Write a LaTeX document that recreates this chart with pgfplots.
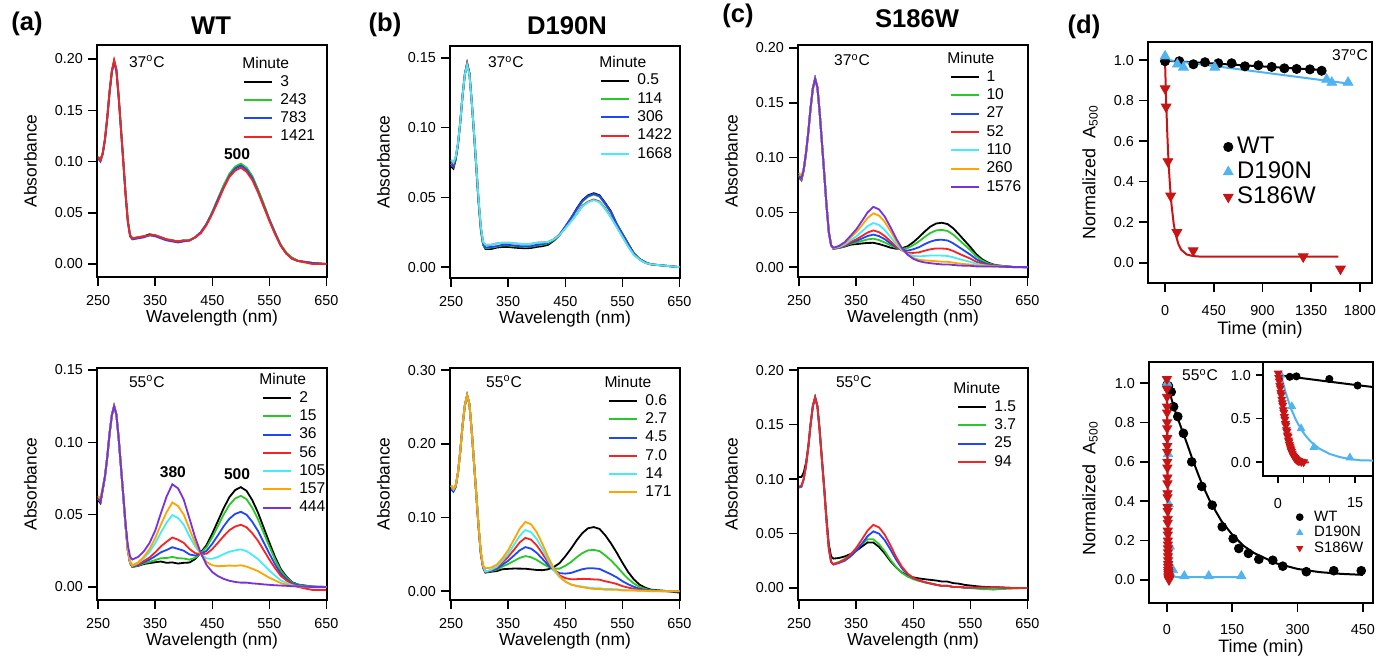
\documentclass[border=0pt]{standalone}
\usepackage{fontspec}
\setmainfont{Liberation Sans}
\usepackage{pgfplots}
\usepackage{pgfplotstable}
\pgfplotsset{compat=1.18}

\definecolor{cgreen}{RGB}{40,200,40}
\definecolor{cblue}{RGB}{30,70,250}
\definecolor{cred}{RGB}{245,35,35}
\definecolor{ccyan}{RGB}{70,235,250}
\definecolor{corange}{RGB}{255,165,0}
\definecolor{cpurple}{RGB}{120,50,220}
\definecolor{lblue}{RGB}{80,180,240}
\definecolor{dred}{RGB}{200,20,20}

\newcommand\tfont{\fontsize{7.2}{8.5}\selectfont}
\newcommand\gfont{\fontsize{7.8}{9}\selectfont}
\newcommand\lfont{\fontsize{8.7}{10}\selectfont}
\newcommand\hfont{\fontsize{12.8}{14}\selectfont\bfseries}

\pgfplotsset{
  base/.style={
    scale only axis,
    tick align=outside,
    xtick pos=left, ytick pos=left,
    major tick length=4.5pt,
    axis line style={line width=0.75pt},
    tick style={black,line width=0.75pt},
    tick label style={font=\tfont},
    xticklabel shift=1pt,
    yticklabel shift=-1pt,
    /pgf/number format/assume math mode=true,
    /pgf/number format/1000 sep={},
    label style={font=\lfont},
    clip=true,
  },
  spec/.style={
    base, width=115pt, height=116pt,
    xmin=248, xmax=651, xtick={250,350,450,550,650},
    yticklabel style={/pgf/number format/.cd,fixed,fixed zerofill,precision=2},
    xlabel={Wavelength (nm)}, ylabel={Absorbance},
    xlabel style={at={(axis description cs:0.5,-0.177)},anchor=center},
    ylabel style={at={(axis description cs:-0.29,0.5)},anchor=center},
    legend cell align=left,
    legend style={draw=none,fill=none,anchor=north west,font=\gfont,inner sep=0pt,
      column sep=3pt,row sep=0.75pt,
      nodes={inner sep=0.5pt,text height=5.8pt,text depth=1.6pt}},
    legend image code/.code={\draw[##1,line width=1pt] (0pt,0pt) -- (14pt,0pt);},
    every axis plot/.append style={line width=0.9pt},
    no markers,
  },
  dax/.style={
    base, width=112pt, height=120.5pt,
    xticklabel shift=3pt,
    ytick={0,0.2,0.4,0.6,0.8,1.0},
    yticklabel style={/pgf/number format/.cd,fixed,fixed zerofill,precision=1},
    xlabel={Time (min)}, ylabel={Normalized\ \ A\textsubscript{500}},
    label style={font=\fontsize{9}{10}\selectfont},
  },
  mWT/.style={only marks, mark=*, black, mark size=2.3pt},
  mDN/.style={only marks, mark=triangle*, lblue, mark size=2.8pt, mark options={draw=lblue,fill=lblue}},
  mSW/.style={only marks, mark=triangle*, dred, mark size=2.8pt, mark options={rotate=180,draw=dred,fill=dred}},
  mlegA/.style={legend image code/.code={\draw[mark repeat=2,mark phase=2,##1] plot coordinates {(0pt,0pt) (4.5pt,0pt) (9pt,0pt)};}},
  mlegB/.style={legend image code/.code={\draw[mark repeat=2,mark phase=2,##1,mark size=1.7pt] plot coordinates {(0pt,0pt) (3pt,0pt) (6pt,0pt)};}},
}

% ---------------- spectra tables ----------------
\pgfplotstableread{
w k g b r
250 0.104 0.105 0.103 0.104
254 0.101 0.102 0.100 0.101
258 0.108 0.108 0.107 0.108
262 0.122 0.122 0.121 0.122
266 0.143 0.143 0.142 0.143
270 0.168 0.168 0.167 0.168
274 0.188 0.188 0.187 0.188
278 0.198 0.198 0.197 0.199
282 0.189 0.189 0.188 0.190
286 0.163 0.163 0.162 0.164
290 0.132 0.132 0.131 0.132
294 0.101 0.101 0.100 0.101
298 0.069 0.069 0.068 0.069
302 0.042 0.042 0.041 0.042
306 0.028 0.028 0.027 0.028
310 0.025 0.025 0.024 0.025
320 0.026 0.026 0.025 0.026
330 0.027 0.027 0.026 0.027
340 0.029 0.028 0.028 0.028
350 0.028 0.028 0.027 0.028
360 0.026 0.026 0.025 0.026
370 0.024 0.024 0.023 0.024
380 0.023 0.023 0.022 0.023
390 0.022 0.022 0.021 0.022
400 0.023 0.023 0.022 0.023
410 0.023 0.023 0.023 0.023
420 0.026 0.026 0.026 0.026
430 0.031 0.031 0.031 0.030
440 0.039 0.039 0.039 0.038
450 0.050 0.051 0.050 0.049
460 0.063 0.064 0.063 0.061
470 0.076 0.077 0.075 0.074
480 0.087 0.088 0.086 0.085
490 0.094 0.095 0.093 0.091
500 0.097 0.098 0.096 0.094
510 0.093 0.094 0.092 0.090
520 0.085 0.086 0.084 0.082
530 0.072 0.073 0.071 0.070
540 0.058 0.059 0.057 0.056
550 0.043 0.044 0.043 0.042
560 0.030 0.031 0.030 0.029
570 0.018 0.019 0.018 0.018
580 0.010 0.011 0.010 0.010
590 0.006 0.006 0.005 0.005
600 0.003 0.003 0.003 0.003
625 0.001 0.001 0.001 0.000
650 0.000 0.000 0.000 0.000
}\tabAt

\pgfplotstableread{
w k g b r c
250 0.072 0.074 0.074 0.076 0.077
254 0.0705 0.072 0.072 0.074 0.075
258 0.077 0.078 0.078 0.079 0.079
262 0.088 0.088 0.088 0.089 0.089
266 0.104 0.104 0.104 0.104 0.104
270 0.123 0.123 0.123 0.123 0.123
274 0.138 0.138 0.138 0.138 0.138
278 0.146 0.146 0.146 0.146 0.145
282 0.139 0.139 0.139 0.139 0.138
286 0.119 0.119 0.119 0.119 0.119
290 0.096 0.096 0.096 0.097 0.097
294 0.072 0.072 0.072 0.073 0.073
298 0.047 0.047 0.048 0.048 0.049
302 0.027 0.027 0.028 0.029 0.029
306 0.016 0.016 0.017 0.018 0.018
310 0.013 0.0135 0.014 0.016 0.016
320 0.013 0.014 0.0145 0.016 0.016
330 0.014 0.0147 0.015 0.017 0.017
340 0.0145 0.0155 0.016 0.0175 0.0175
350 0.0145 0.0155 0.016 0.0175 0.0175
360 0.014 0.015 0.0155 0.017 0.017
370 0.0137 0.0147 0.015 0.0167 0.0167
380 0.0135 0.0145 0.015 0.0165 0.0165
390 0.0137 0.0147 0.015 0.0167 0.0167
400 0.0145 0.0155 0.016 0.0175 0.0175
410 0.015 0.016 0.0165 0.0177 0.0177
420 0.016 0.017 0.0175 0.018 0.018
430 0.019 0.0195 0.0198 0.020 0.020
440 0.023 0.0233 0.0235 0.023 0.023
450 0.029 0.0287 0.029 0.028 0.0278
460 0.035 0.035 0.0352 0.033 0.0328
470 0.042 0.041 0.0415 0.038 0.0378
480 0.048 0.047 0.0475 0.044 0.0435
490 0.0515 0.0505 0.051 0.047 0.0465
500 0.053 0.052 0.0525 0.0485 0.048
510 0.0515 0.0505 0.051 0.047 0.0465
520 0.046 0.045 0.0455 0.042 0.0415
530 0.040 0.039 0.0395 0.036 0.0355
540 0.031 0.031 0.031 0.029 0.0288
550 0.024 0.0236 0.0238 0.022 0.0218
560 0.017 0.0164 0.0166 0.015 0.0149
570 0.010 0.0097 0.0098 0.009 0.0089
580 0.006 0.0058 0.0058 0.0055 0.0055
590 0.0035 0.0034 0.0034 0.003 0.003
600 0.002 0.002 0.002 0.002 0.002
625 0.001 0.001 0.001 0.001 0.001
650 0.000 0.000 0.000 0.000 0.000
}\tabBt

\pgfplotstableread{
w k g b r c o p
250 0.083 0.081 0.083 0.083 0.084 0.086 0.083
254 0.080 0.079 0.080 0.080 0.081 0.083 0.081
258 0.089 0.088 0.089 0.089 0.089 0.090 0.089
262 0.104 0.104 0.104 0.104 0.104 0.104 0.104
266 0.123 0.123 0.123 0.123 0.123 0.123 0.123
270 0.145 0.145 0.145 0.145 0.145 0.145 0.145
274 0.163 0.163 0.163 0.163 0.163 0.163 0.163
278 0.172 0.172 0.172 0.172 0.172 0.172 0.172
282 0.164 0.164 0.164 0.164 0.164 0.164 0.164
286 0.141 0.141 0.141 0.141 0.141 0.141 0.141
290 0.113 0.113 0.113 0.113 0.113 0.113 0.113
294 0.085 0.085 0.085 0.085 0.085 0.085 0.085
298 0.056 0.056 0.056 0.056 0.056 0.056 0.056
302 0.032 0.032 0.032 0.032 0.032 0.032 0.032
306 0.020 0.020 0.020 0.020 0.020 0.020 0.020
310 0.0168 0.0168 0.0169 0.017 0.0172 0.0175 0.0177
320 0.0175 0.0176 0.0179 0.018 0.0184 0.0191 0.0194
330 0.0188 0.0192 0.0195 0.0199 0.0208 0.022 0.0229
340 0.0205 0.0214 0.0221 0.0229 0.0245 0.0269 0.0285
350 0.021 0.0225 0.0239 0.0253 0.028 0.0319 0.0344
360 0.0216 0.0239 0.0261 0.0284 0.0326 0.0382 0.042
370 0.0221 0.0253 0.0284 0.0316 0.0374 0.0449 0.050
380 0.0222 0.026 0.0297 0.0335 0.0403 0.0491 0.055
390 0.0211 0.0247 0.0283 0.0319 0.0385 0.047 0.0527
400 0.0195 0.0225 0.0255 0.0284 0.0339 0.0413 0.0461
410 0.0178 0.0199 0.0217 0.0236 0.0276 0.0329 0.0365
420 0.0168 0.0177 0.0181 0.0188 0.0209 0.0239 0.0261
430 0.0173 0.0168 0.0159 0.0152 0.0155 0.0165 0.0174
440 0.019 0.0175 0.0151 0.0132 0.012 0.0113 0.0114
450 0.0228 0.0201 0.0163 0.013 0.0103 0.0084 0.0076
460 0.0273 0.0235 0.0182 0.0135 0.0098 0.0067 0.0054
470 0.0325 0.0276 0.021 0.015 0.0102 0.0062 0.0043
480 0.037 0.0312 0.0233 0.0163 0.0106 0.0058 0.0036
490 0.0398 0.0335 0.0248 0.0171 0.0107 0.0054 0.003
500 0.0405 0.034 0.025 0.017 0.0105 0.005 0.0025
510 0.0393 0.033 0.0243 0.0166 0.0102 0.0049 0.0025
520 0.0354 0.0297 0.0217 0.0147 0.009 0.0041 0.002
530 0.0299 0.025 0.0183 0.0123 0.0074 0.0033 0.0015
540 0.0241 0.0202 0.0148 0.010 0.0061 0.0028 0.0013
550 0.0183 0.0154 0.0114 0.0078 0.0048 0.0024 0.0012
560 0.012 0.0101 0.0074 0.005 0.0031 0.0014 0.0007
570 0.0074 0.0063 0.0046 0.0032 0.002 0.001 0.0006
580 0.0044 0.0037 0.0028 0.002 0.0014 0.0008 0.0005
590 0.0024 0.0021 0.0017 0.0013 0.0009 0.0007 0.0005
600 0.0015 0.0013 0.0011 0.0009 0.0007 0.0006 0.0005
625 0.0002 0.0002 0.0001 0.0001 0.0 0.0 0.0
650 0 0 0 0 0 0 0
}\tabCt

\pgfplotstableread{
w k g b r c o p
250 0.060 0.061 0.061 0.061 0.062 0.063 0.061
254 0.058 0.059 0.059 0.059 0.060 0.061 0.059
258 0.067 0.0676 0.0676 0.0676 0.068 0.069 0.068
262 0.0765 0.0765 0.0765 0.0765 0.0765 0.0765 0.0765
266 0.0899 0.0899 0.0899 0.0899 0.0899 0.0899 0.0899
270 0.1059 0.1059 0.1059 0.1059 0.1059 0.1059 0.1059
274 0.1187 0.1187 0.1187 0.1187 0.1187 0.1187 0.1187
278 0.125 0.125 0.125 0.125 0.125 0.125 0.125
282 0.1192 0.1192 0.1192 0.1192 0.1192 0.1192 0.1192
286 0.1027 0.1027 0.1027 0.1027 0.1027 0.1027 0.1027
290 0.0829 0.0829 0.0829 0.0829 0.0829 0.0829 0.0829
294 0.0632 0.0632 0.0632 0.0632 0.0632 0.0632 0.0635
298 0.0427 0.0427 0.0427 0.0427 0.0427 0.043 0.044
302 0.0254 0.0254 0.0254 0.0254 0.0256 0.026 0.029
306 0.0166 0.0166 0.0166 0.0166 0.017 0.018 0.021
310 0.0139 0.0139 0.0141 0.0143 0.0147 0.015 0.019
320 0.0146 0.0148 0.0152 0.0156 0.0165 0.017 0.0208
330 0.0159 0.0164 0.0171 0.0179 0.0199 0.0209 0.0246
340 0.0165 0.0173 0.0189 0.0204 0.0242 0.0262 0.0304
350 0.0171 0.0186 0.0213 0.0239 0.0303 0.0338 0.039
360 0.0176 0.0199 0.024 0.0281 0.0377 0.0431 0.051
370 0.0167 0.020 0.0256 0.0313 0.0445 0.0518 0.0626
380 0.017 0.0208 0.0275 0.0342 0.0497 0.0584 0.071
390 0.0162 0.0199 0.0263 0.0327 0.0477 0.056 0.0682
400 0.0167 0.0197 0.0251 0.0305 0.0431 0.0501 0.0604
410 0.0169 0.0189 0.0225 0.0263 0.0351 0.0401 0.0474
420 0.0193 0.0202 0.0217 0.0234 0.028 0.0303 0.0342
430 0.0239 0.0235 0.0229 0.0227 0.0229 0.0228 0.0234
440 0.029 0.0276 0.025 0.023 0.0197 0.0173 0.0152
450 0.0369 0.0344 0.0299 0.0262 0.0195 0.015 0.0103
460 0.0457 0.0422 0.0358 0.0306 0.0208 0.0144 0.0075
470 0.0545 0.0501 0.042 0.0352 0.0227 0.0145 0.0056
480 0.0621 0.0568 0.0472 0.0393 0.0244 0.0148 0.0043
490 0.067 0.0612 0.0505 0.0418 0.0253 0.0146 0.0035
500 0.069 0.063 0.052 0.043 0.026 0.015 0.003
510 0.0665 0.0607 0.050 0.0413 0.0248 0.0141 0.003
520 0.0601 0.0548 0.0451 0.0372 0.0222 0.0126 0.0025
530 0.0515 0.047 0.0388 0.032 0.0193 0.011 0.0022
540 0.0411 0.0375 0.0309 0.0255 0.0153 0.0087 0.0018
550 0.0307 0.028 0.0231 0.019 0.0114 0.0064 0.0015
560 0.0208 0.019 0.0157 0.013 0.0079 0.0046 0.0012
570 0.0124 0.0113 0.0093 0.0077 0.0046 0.0027 0.001
580 0.0071 0.0065 0.0054 0.0045 0.0028 0.0017 0.0008
590 0.0033 0.003 0.0025 0.002 0.0012 0.0006 0.0005
600 0.0017 0.0015 0.0012 0.000 0.0006 0.0003 0.0005
625 0.0003 0.0003 0.0002 -0.002 0.0 0.0 0.0
650 0 0 0 -0.002 0 0 0
}\tabAb

\pgfplotstableread{
w k g b r c o
250 0.143 0.143 0.138 0.143 0.143 0.144
254 0.138 0.138 0.135 0.138 0.138 0.139
258 0.143 0.143 0.141 0.143 0.143 0.144
262 0.161 0.161 0.161 0.161 0.161 0.161
266 0.190 0.190 0.190 0.190 0.190 0.190
270 0.225 0.225 0.225 0.225 0.225 0.225
274 0.252 0.252 0.252 0.252 0.252 0.252
278 0.266 0.266 0.266 0.266 0.266 0.266
282 0.254 0.254 0.254 0.254 0.254 0.254
286 0.218 0.218 0.218 0.218 0.218 0.218
290 0.175 0.175 0.175 0.175 0.175 0.175
294 0.132 0.132 0.132 0.132 0.132 0.133
298 0.088 0.088 0.088 0.088 0.089 0.090
302 0.051 0.051 0.051 0.052 0.053 0.054
306 0.032 0.032 0.032 0.033 0.034 0.035
310 0.0252 0.0256 0.0259 0.0262 0.0266 0.031
320 0.0264 0.0273 0.0278 0.0285 0.0291 0.032
330 0.0273 0.0292 0.0304 0.032 0.0332 0.036
340 0.0298 0.0335 0.036 0.0391 0.0416 0.0448
350 0.0303 0.0369 0.0414 0.0466 0.0508 0.0558
360 0.0307 0.041 0.0483 0.0561 0.0626 0.0698
370 0.0306 0.0451 0.0554 0.0661 0.075 0.0845
380 0.0305 0.0476 0.0598 0.0724 0.083 0.094
390 0.0296 0.0461 0.0578 0.0699 0.0801 0.0908
400 0.0288 0.0424 0.052 0.0622 0.0708 0.080
410 0.0285 0.0375 0.0438 0.0509 0.0571 0.064
420 0.0297 0.0332 0.0354 0.039 0.042 0.0465
430 0.0328 0.0306 0.0285 0.0284 0.0286 0.031
440 0.0381 0.0306 0.0245 0.0214 0.019 0.020
450 0.0473 0.0344 0.0238 0.0178 0.013 0.0131
460 0.0576 0.0395 0.0248 0.0161 0.0092 0.0089
470 0.0691 0.0461 0.0274 0.0163 0.0074 0.0068
480 0.0789 0.0517 0.0298 0.0167 0.0062 0.0054
490 0.0855 0.0554 0.0312 0.0166 0.005 0.004
500 0.087 0.056 0.031 0.016 0.004 0.003
510 0.0845 0.0544 0.0302 0.0156 0.004 0.003
520 0.0759 0.0486 0.0266 0.0134 0.003 0.002
530 0.065 0.0418 0.023 0.0118 0.0028 0.002
540 0.0524 0.0338 0.0188 0.0098 0.0026 0.002
550 0.0388 0.0249 0.0136 0.0069 0.0015 0.001
560 0.0262 0.0169 0.0094 0.0049 0.0013 0.001
570 0.0161 0.0105 0.006 0.0033 0.0012 0.001
580 0.0089 0.0058 0.0033 0.0018 0.0006 0.0005
590 0.0047 0.0032 0.0019 0.0012 0.0005 0.0005
600 0.0021 0.0013 0.0007 0.0003 0 0
625 0.0004 0.0003 0.0001 0 0 0
650 -0.002 0 0 0 0 0
}\tabBb

\pgfplotstableread{
w k g b r
250 0.102 0.092 0.093 0.093
254 0.102 0.093 0.093 0.094
258 0.106 0.100 0.100 0.100
262 0.115 0.112 0.112 0.112
266 0.130 0.129 0.129 0.129
270 0.150 0.150 0.150 0.150
274 0.167 0.167 0.167 0.167
278 0.175 0.175 0.175 0.175
282 0.167 0.167 0.167 0.167
286 0.145 0.144 0.144 0.144
290 0.118 0.117 0.117 0.117
294 0.092 0.090 0.090 0.090
298 0.064 0.061 0.061 0.061
302 0.040 0.036 0.036 0.036
306 0.029 0.024 0.024 0.024
310 0.027 0.0222 0.0215 0.0218
320 0.0276 0.024 0.023 0.0235
330 0.029 0.0268 0.0251 0.026
340 0.0312 0.0304 0.029 0.0308
350 0.0342 0.035 0.0341 0.0368
360 0.0381 0.0405 0.0407 0.0446
370 0.0419 0.0448 0.0477 0.0528
380 0.0418 0.0447 0.052 0.058
390 0.0377 0.0403 0.0499 0.0557
400 0.0318 0.0337 0.0439 0.049
410 0.0247 0.0259 0.0353 0.0392
420 0.0189 0.0193 0.026 0.0285
430 0.0143 0.014 0.0181 0.0196
440 0.0114 0.0105 0.0126 0.0133
450 0.0098 0.0081 0.0091 0.0094
460 0.0088 0.0065 0.007 0.0071
470 0.0081 0.0052 0.0054 0.0054
480 0.0075 0.004 0.0042 0.0042
490 0.0069 0.003 0.003 0.003
500 0.006 0.002 0.002 0.002
510 0.0059 0.002 0.002 0.002
520 0.0045 0.001 0.001 0.001
530 0.004 0.001 0.001 0.001
540 0.0029 0.0 0.0005 0.0005
550 0.0023 0.0 0.0005 0.0005
560 0.0017 -0.0005 0.0005 0.0005
570 0.0012 -0.001 0.0005 0.0005
580 0.0009 -0.001 0.0005 0.0005
590 0.0007 -0.0015 0.0005 0.0005
600 0.0006 -0.001 0.0005 0.0005
625 0.0 -0.0005 0 0
650 0 0 0 0
}\tabCb

% ---------------- kinetics at 55 C ----------------
\pgfplotstableread{
t v
0.3 0.99
2.3 0.98
3.6 0.985
10 0.955
15.5 0.88
25 0.83
38 0.745
57 0.60
80 0.475
104 0.38
127 0.27
152 0.21
165 0.16
187 0.135
211 0.105
243 0.10
266 0.07
320 0.042
383 0.047
446 0.047
}\dWT
\pgfplotstableread{
t v
0.6 1.0
2.7 0.64
4.5 0.385
7.0 0.17
14 0.05
40 0.02
96 0.02
171 0.02
}\dDN
\pgfplotstableread{
t v
0.05 1.02
0.15 0.97
0.25 0.93
0.35 0.88
0.45 0.85
0.55 0.80
0.65 0.77
0.75 0.72
0.85 0.68
0.95 0.65
1.05 0.60
1.15 0.57
1.25 0.52
1.35 0.49
1.45 0.44
1.55 0.42
1.65 0.37
1.75 0.35
1.85 0.31
1.95 0.29
2.05 0.25
2.15 0.23
2.25 0.20
2.35 0.18
2.45 0.16
2.55 0.14
2.65 0.12
2.8 0.10
2.95 0.08
3.1 0.065
3.25 0.05
3.4 0.04
3.6 0.03
3.8 0.02
4.0 0.015
4.3 0.01
4.6 0.005
5.0 0.0
}\dSW
\pgfplotstableread{
t v
0 1.0
5 0.962
10 0.924
15 0.887
20 0.852
30 0.79
45 0.70
60 0.605
80 0.49
100 0.395
125 0.30
150 0.23
175 0.175
200 0.137
250 0.085
300 0.056
350 0.04
400 0.031
450 0.026
}\fWT
\pgfplotstableread{
t v
0.6 1.0
1.5 0.80
2.5 0.62
3.5 0.485
4.5 0.377
5.5 0.294
6.5 0.229
8 0.157
10 0.095
12 0.058
14 0.035
16 0.021
20 0.015
60 0.015
120 0.015
178 0.015
}\fDN
\pgfplotstableread{
t v
0 1.0
0.5 0.82
1 0.64
1.5 0.45
2 0.28
2.5 0.16
3 0.08
3.5 0.04
4 0.02
5 0.0
6 -0.005
}\fSW

\begin{document}
\begin{tikzpicture}

% ===== (a) WT 37C =====
\begin{axis}[spec, at={(48.5pt,189pt)}, anchor=south west,
  ymin=-0.0127, ymax=0.2137, ytick={0,0.05,0.10,0.15,0.20},
  legend style={at={(0.635,0.879)}}]
\addplot[black] table[x=w,y=k] {\tabAt}; \addlegendentry{3}
\addplot[cgreen] table[x=w,y=g] {\tabAt}; \addlegendentry{243}
\addplot[cblue] table[x=w,y=b] {\tabAt}; \addlegendentry{783}
\addplot[cred] table[x=w,y=r] {\tabAt}; \addlegendentry{1421}
\node[font=\gfont] at (rel axis cs:0.217,0.927) {37\textsuperscript{o}C};
\node[font=\gfont,anchor=west,inner sep=0pt] at (rel axis cs:0.630,0.922) {Minute};
\node[font=\gfont\bfseries] at (rel axis cs:0.609,0.530) {500};
\end{axis}

% ===== (b) D190N 37C =====
\begin{axis}[spec, at={(225pt,188.5pt)}, anchor=south west,
  ymin=-0.0078, ymax=0.1585, ytick={0,0.05,0.10,0.15},
  legend style={at={(0.652,0.888)}}]
\addplot[black] table[x=w,y=k] {\tabBt}; \addlegendentry{0.5}
\addplot[cgreen] table[x=w,y=g] {\tabBt}; \addlegendentry{114}
\addplot[cblue] table[x=w,y=b] {\tabBt}; \addlegendentry{306}
\addplot[cred] table[x=w,y=r] {\tabBt}; \addlegendentry{1422}
\addplot[ccyan] table[x=w,y=c] {\tabBt}; \addlegendentry{1668}
\node[font=\gfont] at (rel axis cs:0.243,0.931) {37\textsuperscript{o}C};
\node[font=\gfont,anchor=west,inner sep=0pt] at (rel axis cs:0.648,0.930) {Minute};
\end{axis}

% ===== (c) S186W 37C =====
\begin{axis}[spec, at={(399pt,189pt)}, anchor=south west,
  ymin=-0.009, ymax=0.2027, ytick={0,0.05,0.10,0.15,0.20},
  legend style={at={(0.657,0.900)}}]
\addplot[black] table[x=w,y=k] {\tabCt}; \addlegendentry{1}
\addplot[cgreen] table[x=w,y=g] {\tabCt}; \addlegendentry{10}
\addplot[cblue] table[x=w,y=b] {\tabCt}; \addlegendentry{27}
\addplot[cred] table[x=w,y=r] {\tabCt}; \addlegendentry{52}
\addplot[ccyan] table[x=w,y=c] {\tabCt}; \addlegendentry{110}
\addplot[corange] table[x=w,y=o] {\tabCt}; \addlegendentry{260}
\addplot[cpurple] table[x=w,y=p] {\tabCt}; \addlegendentry{1576}
\node[font=\gfont] at (rel axis cs:0.235,0.935) {37\textsuperscript{o}C};
\node[font=\gfont,anchor=west,inner sep=0pt] at (rel axis cs:0.648,0.943) {Minute};
\end{axis}

% ===== (a) WT 55C =====
\begin{axis}[spec, at={(48.5pt,27.5pt)}, anchor=south west,
  ymin=-0.009, ymax=0.1514, ytick={0,0.05,0.10,0.15},
  legend style={at={(0.717,0.909)}}]
\addplot[black] table[x=w,y=k] {\tabAb}; \addlegendentry{2}
\addplot[cgreen] table[x=w,y=g] {\tabAb}; \addlegendentry{15}
\addplot[cblue] table[x=w,y=b] {\tabAb}; \addlegendentry{36}
\addplot[cred] table[x=w,y=r] {\tabAb}; \addlegendentry{56}
\addplot[ccyan] table[x=w,y=c] {\tabAb}; \addlegendentry{105}
\addplot[corange] table[x=w,y=o] {\tabAb}; \addlegendentry{157}
\addplot[cpurple] table[x=w,y=p] {\tabAb}; \addlegendentry{444}
\node[font=\gfont] at (rel axis cs:0.217,0.940) {55\textsuperscript{o}C};
\node[font=\gfont,anchor=west,inner sep=0pt] at (rel axis cs:0.704,0.952) {Minute};
\node[font=\gfont\bfseries] at (rel axis cs:0.330,0.552) {380};
\node[font=\gfont\bfseries] at (rel axis cs:0.609,0.543) {500};
\end{axis}

% ===== (b) D190N 55C =====
\begin{axis}[spec, at={(225pt,27.5pt)}, anchor=south west,
  ymin=-0.012, ymax=0.303, ytick={0,0.10,0.20,0.30},
  legend style={at={(0.687,0.896)}}]
\addplot[black] table[x=w,y=k] {\tabBb}; \addlegendentry{0.6}
\addplot[cgreen] table[x=w,y=g] {\tabBb}; \addlegendentry{2.7}
\addplot[cblue] table[x=w,y=b] {\tabBb}; \addlegendentry{4.5}
\addplot[cred] table[x=w,y=r] {\tabBb}; \addlegendentry{7.0}
\addplot[ccyan] table[x=w,y=c] {\tabBb}; \addlegendentry{14}
\addplot[corange] table[x=w,y=o] {\tabBb}; \addlegendentry{171}
\node[font=\gfont] at (rel axis cs:0.235,0.940) {55\textsuperscript{o}C};
\node[font=\gfont,anchor=west,inner sep=0pt] at (rel axis cs:0.670,0.939) {Minute};
\end{axis}

% ===== (c) S186W 55C =====
\begin{axis}[spec, at={(399pt,27.5pt)}, anchor=south west,
  ymin=-0.011, ymax=0.202, ytick={0,0.05,0.10,0.15,0.20},
  legend style={at={(0.691,0.870)}}]
\addplot[black] table[x=w,y=k] {\tabCb}; \addlegendentry{1.5}
\addplot[cgreen] table[x=w,y=g] {\tabCb}; \addlegendentry{3.7}
\addplot[cblue] table[x=w,y=b] {\tabCb}; \addlegendentry{25}
\addplot[cred] table[x=w,y=r] {\tabCb}; \addlegendentry{94}
\node[font=\gfont] at (rel axis cs:0.243,0.940) {55\textsuperscript{o}C};
\node[font=\gfont,anchor=west,inner sep=0pt] at (rel axis cs:0.674,0.913) {Minute};
\end{axis}

% ===== (d) top, 37C =====
\begin{axis}[dax, at={(574pt,186pt)}, anchor=south west,
  xmin=-157, xmax=1911, ymin=-0.10, ymax=1.09, xtick={0,450,900,1350,1800},
  xlabel style={at={(axis description cs:0.5,-0.195)},anchor=center},
  ylabel style={at={(axis description cs:-0.259,0.46)},anchor=center},
  legend cell align=left,
  legend style={draw=none,fill=none,at={(0.335,0.618)},anchor=north west,
    font=\fontsize{12}{13}\selectfont,inner sep=0pt,column sep=1.5pt,row sep=0pt,
    nodes={inner sep=0.5pt,text height=9pt,text depth=2.5pt}}]
\addplot[black,line width=1pt,forget plot] coordinates {(0,0.998) (723,0.975) (1446,0.952)};
\addplot[lblue,line width=1pt,forget plot] coordinates {(0,1.003) (1690,0.885)};
\addplot[dred,line width=1pt,forget plot] coordinates {(0,1.0) (10,0.806) (20,0.652) (30,0.528) (40,0.430) (50,0.350) (60,0.287) (80,0.193) (100,0.135) (125,0.090) (150,0.064) (200,0.041) (250,0.034) (300,0.031) (400,0.030) (1600,0.030)};
\addplot[mWT,mlegA] coordinates {(0,0.995) (132,0.995) (262,0.98) (369,0.99) (492,0.985) (615,0.985) (738,0.97) (862,0.975) (985,0.967) (1102,0.96) (1215,0.957) (1338,0.955) (1446,0.948)};
\addlegendentry{WT}
\addplot[mDN,mlegA] coordinates {(0.5,1.02) (114,0.98) (170,0.965) (460,0.965) (1492,0.905) (1540,0.89) (1690,0.89)};
\addlegendentry{D190N}
\addplot[mSW,mlegA] coordinates {(1,0.86) (10,0.77) (27,0.50) (52,0.33) (110,0.15) (260,0.06) (1276,0.03) (1620,-0.03)};
\addlegendentry{S186W}
\node[font=\gfont] at (rel axis cs:0.902,0.946) {37\textsuperscript{o}C};
\end{axis}

% ===== (d) bottom, 55C =====
\begin{axis}[dax, at={(574.5pt,26pt)}, anchor=south west,
  xmin=-41, xmax=473, ymin=-0.117, ymax=1.107, xtick={0,150,300,450},
  xticklabel shift=2.5pt,
  xlabel style={at={(axis description cs:0.5,-0.187)},anchor=center},
  ylabel style={at={(axis description cs:-0.263,0.477)},anchor=center},
  legend cell align=left,
  legend style={draw=none,fill=none,at={(0.656,0.39)},anchor=north west,
    font=\fontsize{7.5}{8.5}\selectfont,inner sep=0pt,column sep=5pt,row sep=0pt,
    nodes={inner sep=0.5pt,text height=5.3pt,text depth=1.45pt}}]
\addplot[black,line width=1pt,forget plot] table[x=t,y=v] {\fWT};
\addplot[lblue,line width=1pt,forget plot] table[x=t,y=v] {\fDN};
\addplot[dred,line width=1pt,forget plot] table[x=t,y=v] {\fSW};
\addplot[mWT,mark size=2.2pt,mlegB] table[x=t,y=v] {\dWT}; \addlegendentry{WT}
\addplot[mDN,mark size=2.6pt,mlegB] table[x=t,y=v] {\dDN}; \addlegendentry{D190N}
\addplot[mSW,mark size=2.6pt,mlegB] table[x=t,y=v] {\dSW}; \addlegendentry{S186W}
\node[font=\gfont] at (rel axis cs:0.228,0.946) {55\textsuperscript{o}C};
\end{axis}

% ===== inset =====
\begin{axis}[base, at={(631.5pt,89.5pt)}, anchor=south west, width=55pt, height=57pt,
  xmin=-2.9, xmax=18.5, ymin=-0.16, ymax=1.15,
  xtick={0,5,10,15}, xticklabels={0,,,15}, ytick={0,0.5,1},
  xticklabel shift=4pt,
  yticklabel style={/pgf/number format/.cd,fixed,fixed zerofill,precision=1},
  major tick length=3.5pt, axis background/.style={fill=white}]
\addplot[black,line width=1pt] table[x=t,y=v] {\fWT};
\addplot[lblue,line width=1pt] table[x=t,y=v] {\fDN};
\addplot[dred,line width=1pt] table[x=t,y=v] {\fSW};
\addplot[mWT,mark size=1.8pt] table[x=t,y=v] {\dWT};
\addplot[mDN,mark size=2.2pt] table[x=t,y=v] {\dDN};
\addplot[mSW,mark size=2.2pt] table[x=t,y=v] {\dSW};
\end{axis}

% ===== titles =====
\node[font=\hfont] at (13.5pt,315.5pt) {(a)};
\node[font=\hfont] at (105.5pt,314.5pt) {WT};
\node[font=\hfont] at (192.5pt,315pt) {(b)};
\node[font=\hfont] at (283.5pt,314.5pt) {D190N};
\node[font=\hfont] at (369pt,319.5pt) {(c)};
\node[font=\hfont] at (458.5pt,318pt) {S186W};
\node[font=\hfont] at (542pt,314pt) {(d)};

\pgfresetboundingbox
\useasboundingbox (0,0) rectangle (691pt,327.5pt);
\end{tikzpicture}
\end{document}
